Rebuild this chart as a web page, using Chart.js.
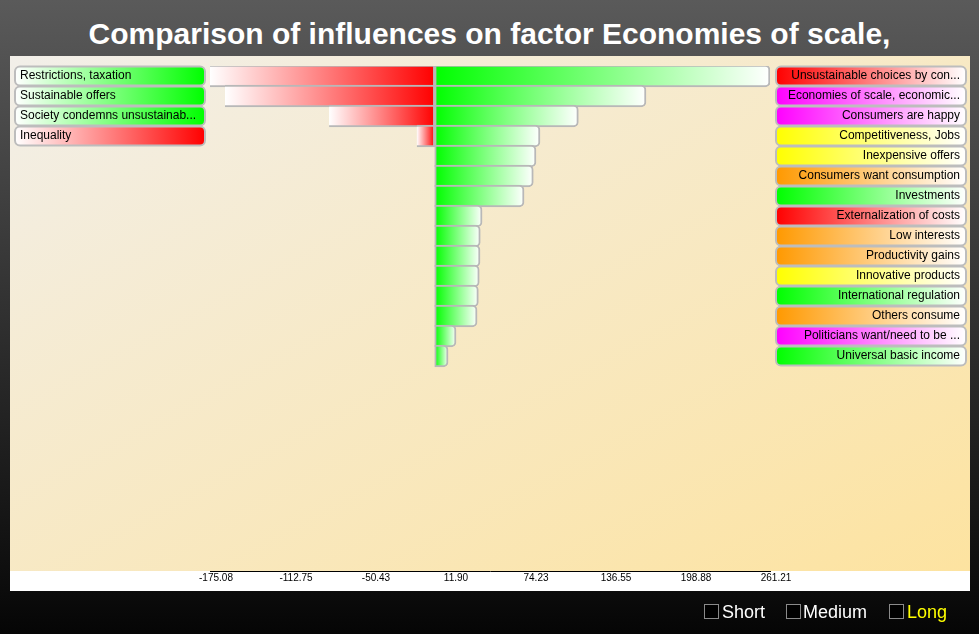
<!DOCTYPE html>
<html><head><meta charset="utf-8">
<script src="https://cdn.jsdelivr.net/npm/chart.js@4.4.1/dist/chart.umd.min.js"></script>
<style>
html,body{margin:0;padding:0;}
body{width:979px;height:634px;overflow:hidden;position:relative;background:linear-gradient(#5a5a5a,#0c0c0c 93%,#050505);font-family:'Liberation Sans',Arial,Helvetica,sans-serif;}
#title{position:absolute;left:0;top:19px;width:979px;text-align:center;color:#fff;font-weight:bold;font-size:30px;line-height:30px;white-space:nowrap;}
#panel{position:absolute;left:10px;top:56px;width:960px;height:515px;background:linear-gradient(to bottom right,#f2efe9,#fde3a0);}
#strip{position:absolute;left:10px;top:571px;width:960px;height:20px;background:#fff;}
#chart{position:absolute;left:0;top:0;}
.leg{position:absolute;top:602px;font-size:18px;color:#fff;line-height:20px;white-space:nowrap;}
.box{position:absolute;top:604px;width:13px;height:13px;border:1px solid #8a8a8a;background:#000;}
</style></head><body>
<div id="title">Comparison of influences on factor Economies of scale,</div>
<div id="panel"></div>
<div id="strip"></div>
<canvas id="chart" width="979" height="634"></canvas>
<div class="box" style="left:704px"></div><div class="leg" style="left:722px">Short</div>
<div class="box" style="left:786px"></div><div class="leg" style="left:803px">Medium</div>
<div class="box" style="left:889px"></div><div class="leg" style="left:907px;color:#ffff00">Long</div>
<script>
const leftLabels = ['Restrictions, taxation','Sustainable offers','Society condemns unsustainab...','Inequality'];
const leftColors = ['#00ff00','#00ff00','#00ff00','#ff0000'];
const negValues = [-175.08,-163.4,-82.3,-14.0];

const rightLabels = ['Unsustainable choices by con...','Economies of scale, economic...','Consumers are happy','Competitiveness, Jobs','Inexpensive offers','Consumers want consumption','Investments','Externalization of costs','Low interests','Productivity gains','Innovative products','International regulation','Others consume','Politicians want/need to be ...','Universal basic income'];
const rightColors = ['#ff0000','#ff00ff','#ff00ff','#ffff00','#ffff00','#ff9900','#00ff00','#ff0000','#ff9900','#ff9900','#ffff00','#00ff00','#ff9900','#ff00ff','#00ff00'];
const posValues = [261.21,164.6,111.9,82.0,78.9,76.8,69.6,36.9,35.5,35.3,34.7,34.0,33.0,16.6,10.4];

const xTicks = [-175.08,-112.75,-50.43,11.90,74.23,136.55,198.88,261.21];
const visibleRows = 25.25;

const FONT = "'Liberation Sans', Arial, Helvetica, sans-serif";

function barGradient(c, color) {
  const chart = c.chart, xs = chart.scales.x;
  if (!xs || !c.raw || typeof c.raw.x !== 'number') return color;
  const x0 = xs.getPixelForValue(0), x1 = xs.getPixelForValue(c.raw.x);
  if (!isFinite(x0) || !isFinite(x1) || x0 === x1) return color;
  const g = chart.ctx.createLinearGradient(x0, 0, x1, 0);
  g.addColorStop(0, color);
  g.addColorStop(1, '#ffffff');
  return g;
}

const labelBoxes = {
  id: 'labelBoxes',
  beforeDraw(chart) {
    const ctx = chart.ctx, yl = chart.scales.y, yr = chart.scales.y2;
    const drawBox = (x, y, w, h, color, colorOnRight) => {
      const g = ctx.createLinearGradient(x, 0, x + w, 0);
      if (colorOnRight) { g.addColorStop(0, '#ffffff'); g.addColorStop(1, color); }
      else { g.addColorStop(0, color); g.addColorStop(1, '#ffffff'); }
      ctx.save();
      ctx.beginPath();
      ctx.roundRect(x, y, w, h, 5);
      ctx.fillStyle = g;
      ctx.fill();
      ctx.lineWidth = 2;
      ctx.strokeStyle = '#bdbdbd';
      ctx.stroke();
      ctx.restore();
    };
    leftLabels.forEach((t, i) => {
      const yc = yl.getPixelForValue(i);
      drawBox(yl.left - 5, yc - 9.5, yl.right - yl.left, 19, leftColors[i], true);
    });
    rightLabels.forEach((t, i) => {
      const yc = yr.getPixelForValue(i);
      drawBox(yr.left + 6, yc - 9.5, yr.right - yr.left, 19, rightColors[i], false);
    });
  }
};

const yAxis = (labels, position) => ({
  type: 'linear',
  position: position,
  reverse: true,
  offset: false,
  min: -0.5,
  max: visibleRows - 0.5,
  grid: { display: false, offset: false },
  border: { display: false },
  afterBuildTicks: (s) => { s.ticks = labels.map((_, i) => ({ value: i })); },
  afterFit: (s) => { s.width = 190; },
  ticks: {
    autoSkip: false,
    crossAlign: 'far',
    padding: 0,
    color: '#000',
    font: { family: FONT, size: 12 },
    callback: (v) => labels[v] !== undefined ? labels[v] : ''
  }
});

const barStyle = {
  grouped: false,
  barThickness: 22,
  borderWidth: 2,
  borderColor: '#b8b8b8'
};

new Chart(document.getElementById('chart'), {
  type: 'bar',
  data: {
    datasets: [
      Object.assign({
        label: 'negative',
        data: negValues.map((v, i) => ({ x: v, y: i })),
        borderSkipped: 'right',
        borderRadius: { topLeft: 5, bottomLeft: 5, topRight: 0, bottomRight: 0 },
        backgroundColor: (c) => barGradient(c, '#ff0000')
      }, barStyle),
      Object.assign({
        label: 'positive',
        data: posValues.map((v, i) => ({ x: v, y: i })),
        borderSkipped: false,
        borderRadius: { topLeft: 0, bottomLeft: 0, topRight: 5, bottomRight: 5 },
        backgroundColor: (c) => barGradient(c, '#00ff00')
      }, barStyle)
    ]
  },
  options: {
    indexAxis: 'y',
    responsive: false,
    animation: false,
    layout: { padding: { left: 20, right: 19, top: 66, bottom: 43 } },
    plugins: { legend: { display: false }, tooltip: { enabled: false }, title: { display: false } },
    scales: {
      x: {
        type: 'linear',
        min: xTicks[0],
        max: xTicks[xTicks.length - 1],
        grid: { display: false, drawTicks: false },
        border: { display: true, color: '#000', width: 1 },
        afterBuildTicks: (s) => { s.ticks = xTicks.map(v => ({ value: v })); },
        afterFit: (s) => { s.height = 20; },
        ticks: {
          autoSkip: false,
          maxRotation: 0,
          padding: 1,
          labelOffset: 6,
          color: '#000',
          font: { family: FONT, size: 10 },
          callback: (v) => Number(v).toFixed(2)
        }
      },
      y: yAxis(leftLabels, 'left'),
      y2: yAxis(rightLabels, 'right')
    }
  },
  plugins: [labelBoxes]
});
</script>
</body></html>
